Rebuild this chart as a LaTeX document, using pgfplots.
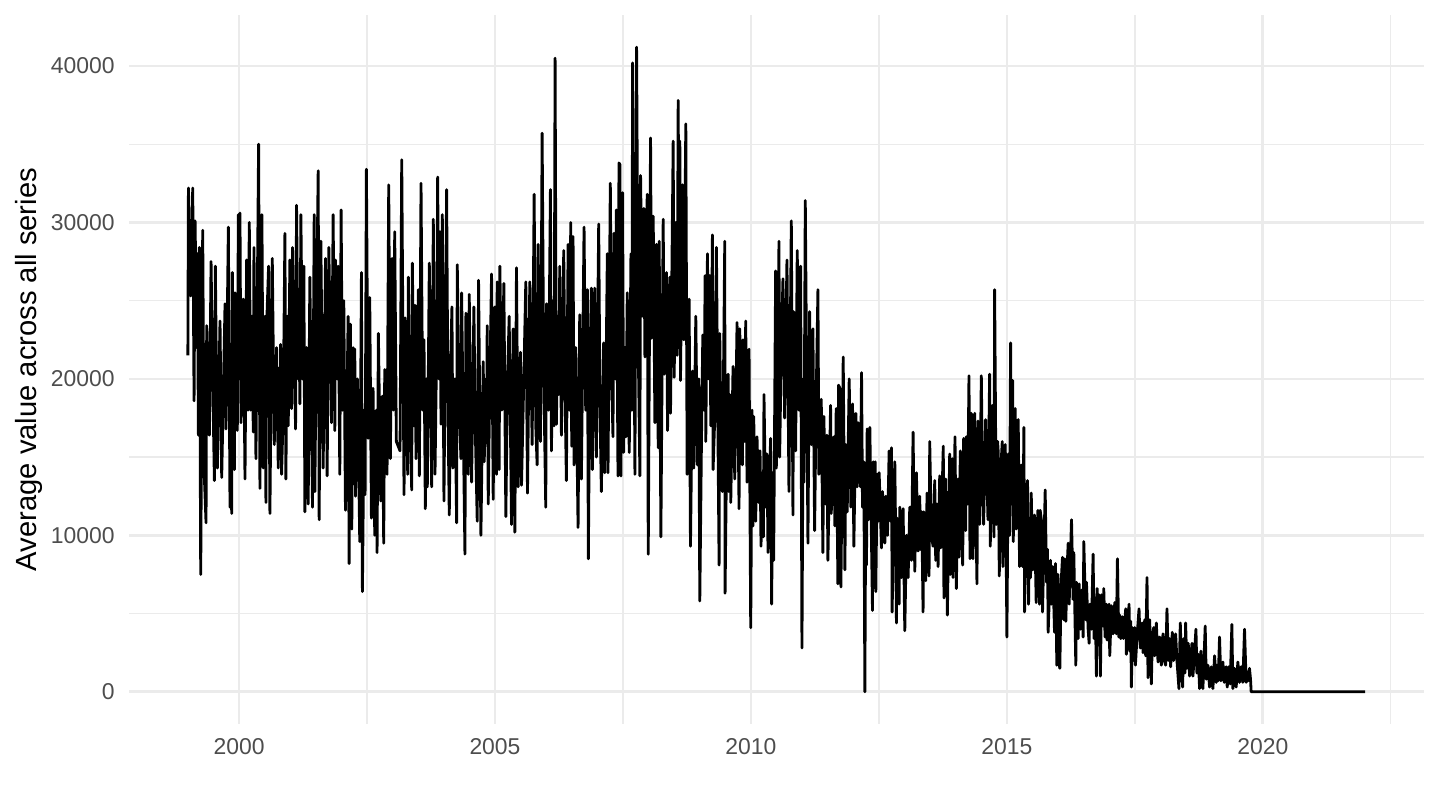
\documentclass[border=0pt]{standalone}
\usepackage{fontspec}
\setmainfont{Liberation Sans}
\usepackage{pgfplots}
\pgfplotsset{compat=1.18}
\definecolor{grid92}{HTML}{EBEBEB}
\definecolor{grey30}{HTML}{4D4D4D}
\begin{document}
\begin{tikzpicture}[x=1bp,y=1bp]
\path[use as bounding box] (0,0) rectangle (691.2,388.8);
\begin{axis}[
  at={(61.92bp,41.28bp)}, anchor=south west,
  scale only axis, width=621.6bp, height=340.32bp,
  xmin=1997.85, xmax=2023.15, ymin=-2060, ymax=43260,
  xtick={2000,2005,2010,2015,2020},
  minor xtick={2002.5,2007.5,2012.5,2017.5,2022.5},
  ytick={0,10000,20000,30000,40000},
  minor ytick={5000,15000,25000,35000},
  grid=both,
  major grid style={draw=grid92, line width=1.25bp},
  minor grid style={draw=grid92, line width=0.65bp},
  axis line style={draw=none},
  major tick length=0pt, minor tick length=0pt,
  tick style={draw=none},
  scaled ticks=false,
  /pgf/number format/1000 sep={},
  /pgf/number format/assume math mode=true,
  xticklabel style={font=\fontsize{11bp}{13bp}\selectfont, text=grey30, anchor=north, inner sep=0pt, yshift=-6.9bp},
  yticklabel style={font=\fontsize{11bp}{13bp}\selectfont, text=grey30, anchor=east, inner sep=0pt, xshift=-6.7bp},
  ylabel={Average value across all series},
  every axis y label/.style={at={(axis description cs:0,0.5)}, rotate=90, anchor=base, yshift=44.3bp},
  ylabel style={font=\fontsize{14bp}{16bp}\selectfont, text=black, inner sep=0pt},
]
\addplot[black, line width=1.35bp, line join=round] coordinates {
(1999.000,21500) (1999.011,32200) (1999.056,25300) (1999.095,32200) (1999.121,18600) (1999.141,30100) (1999.173,22000) (1999.186,28000) (1999.206,16400) (1999.225,28400) (1999.251,7500) (1999.290,29500) (1999.316,14300) (1999.355,10800) (1999.368,23400) (1999.420,16400) (1999.453,27500) (1999.485,20000) (1999.518,13500) (1999.537,27200) (1999.576,14300) (1999.628,23700) (1999.661,13700) (1999.726,24800) (1999.745,16800) (1999.791,29700) (1999.823,11800) (1999.836,19000) (1999.856,11400) (1999.869,26800) (1999.908,14200) (1999.921,25500) (1999.966,16700) (1999.986,30500)
(2000.005,20000) (2000.018,30600) (2000.038,17200) (2000.083,25100) (2000.116,13600) (2000.148,27600) (2000.174,18000) (2000.200,30000) (2000.226,18000) (2000.252,24000) (2000.278,16600) (2000.291,28400) (2000.330,14900) (2000.382,35000) (2000.408,13000) (2000.447,30500) (2000.473,14300) (2000.506,24000) (2000.525,12100) (2000.538,23300) (2000.577,27200) (2000.603,11400) (2000.649,27700) (2000.688,15800) (2000.733,22000) (2000.766,14300) (2000.785,20700) (2000.798,15500) (2000.811,22200) (2000.831,13900) (2000.863,18000) (2000.896,29300) (2000.915,13600) (2000.941,24000) (2000.961,17000) (2000.993,27600)
(2001.026,18100) (2001.045,28400) (2001.078,22000) (2001.104,16800) (2001.123,31100) (2001.156,20000) (2001.169,25000) (2001.188,18400) (2001.208,30500) (2001.240,20000) (2001.266,27200) (2001.286,11500) (2001.318,22000) (2001.351,12000) (2001.383,26500) (2001.435,11800) (2001.468,30500) (2001.481,12800) (2001.513,24000) (2001.546,33300) (2001.565,11000) (2001.598,28800) (2001.643,14300) (2001.689,27700) (2001.721,13800) (2001.754,28400) (2001.806,17200) (2001.838,30500) (2001.871,16700) (2001.884,27600) (2001.916,20000) (2001.936,27200) (2001.968,13900) (2001.994,30800)
(2002.020,18000) (2002.046,25000) (2002.079,11600) (2002.131,24000) (2002.150,8200) (2002.176,23500) (2002.202,10400) (2002.228,22000) (2002.241,14000) (2002.261,21900) (2002.274,12500) (2002.313,20000) (2002.358,9600) (2002.391,26800) (2002.410,6400) (2002.443,18000) (2002.462,12600) (2002.488,33400) (2002.521,16200) (2002.553,25200) (2002.586,11100) (2002.618,19400) (2002.651,10000) (2002.683,18000) (2002.696,8900) (2002.722,22900) (2002.768,12200) (2002.800,18900) (2002.826,9500) (2002.846,20600) (2002.891,13900) (2002.924,32400) (2002.956,14900) (2002.989,27700)
(2003.015,18000) (2003.041,29400) (2003.073,16000) (2003.145,15400) (2003.178,34000) (2003.223,12600) (2003.243,23900) (2003.295,13900) (2003.308,26500) (2003.340,18000) (2003.373,12900) (2003.386,27400) (2003.418,17000) (2003.438,24700) (2003.457,14900) (2003.503,25700) (2003.522,13800) (2003.555,32500) (2003.587,18000) (2003.613,22500) (2003.639,11700) (2003.659,20000) (2003.678,13100) (2003.717,27400) (2003.763,13100) (2003.795,30200) (2003.828,13900) (2003.860,22000) (2003.880,32900) (2003.906,20000) (2003.925,29400) (2003.945,17100) (2003.971,30500)
(2004.003,12200) (2004.029,22000) (2004.055,32100) (2004.081,18000) (2004.107,11300) (2004.140,22000) (2004.159,24600) (2004.178,14300) (2004.218,20000) (2004.250,10800) (2004.263,27300) (2004.302,18000) (2004.335,14900) (2004.348,25500) (2004.380,17000) (2004.413,8800) (2004.432,24200) (2004.478,13900) (2004.497,25400) (2004.543,13400) (2004.588,24600) (2004.614,17000) (2004.653,10900) (2004.679,26300) (2004.725,10000) (2004.770,21100) (2004.790,14700) (2004.822,20000) (2004.835,16000) (2004.848,23400) (2004.868,12000) (2004.900,20000) (2004.933,26700) (2004.965,12300) (2004.998,24600)
(2005.030,13900) (2005.043,26200) (2005.082,14200) (2005.095,27200) (2005.134,18000) (2005.173,26100) (2005.212,11200) (2005.245,20000) (2005.277,24000) (2005.323,10700) (2005.355,23200) (2005.388,10200) (2005.420,27100) (2005.453,13100) (2005.498,21700) (2005.518,13200) (2005.563,20000) (2005.602,26200) (2005.635,12700) (2005.680,26200) (2005.726,15800) (2005.765,31800) (2005.797,17000) (2005.823,14500) (2005.843,28600) (2005.875,18000) (2005.888,16000) (2005.921,35700) (2005.953,20000) (2005.992,11800)
(2006.005,24800) (2006.044,18000) (2006.083,32100) (2006.103,15400) (2006.135,25000) (2006.154,17000) (2006.174,40500) (2006.200,17100) (2006.226,24000) (2006.246,19000) (2006.265,27200) (2006.298,16400) (2006.343,28200) (2006.369,19000) (2006.395,13500) (2006.428,28600) (2006.454,18000) (2006.480,30000) (2006.499,15700) (2006.525,29100) (2006.545,14500) (2006.577,22000) (2006.623,10500) (2006.655,24100) (2006.688,13600) (2006.740,29700) (2006.772,18000) (2006.805,25700) (2006.824,8500) (2006.850,20000) (2006.883,25800) (2006.902,14200) (2006.948,25800) (2006.980,15000)
(2007.026,29900) (2007.052,18000) (2007.078,12800) (2007.123,22300) (2007.143,14000) (2007.175,22000) (2007.195,28000) (2007.208,14000) (2007.253,32500) (2007.279,20000) (2007.305,16300) (2007.325,29300) (2007.351,20000) (2007.370,30800) (2007.403,13800) (2007.422,33800)
(2007.441,33700) (2007.461,13800) (2007.493,31900) (2007.513,15300) (2007.539,22000) (2007.558,16300) (2007.584,25500) (2007.623,15300) (2007.656,28000) (2007.675,18000) (2007.688,40200) (2007.734,13900) (2007.766,41200) (2007.799,22000) (2007.831,13800) (2007.844,33000) (2007.877,24000) (2007.909,30900) (2007.929,21400) (2007.974,31800) (2007.994,8800)
(2008.039,35400) (2008.059,22600) (2008.091,30400) (2008.124,17200) (2008.156,28600) (2008.189,15600) (2008.208,28800) (2008.241,9900) (2008.286,30200) (2008.306,20300) (2008.351,26800) (2008.371,16700) (2008.416,26500) (2008.429,17800) (2008.481,35200) (2008.501,20100) (2008.533,30000) (2008.559,21500) (2008.579,37800) (2008.598,24000) (2008.611,35200) (2008.624,19900) (2008.663,32400) (2008.689,22500) (2008.728,36300) (2008.754,13900) (2008.793,25100) (2008.819,9300) (2008.858,20500) (2008.884,14300) (2008.923,24000) (2008.955,14500) (2008.982,20000)
(2009.001,5800) (2009.034,16100) (2009.060,22800) (2009.086,18000) (2009.105,26600) (2009.118,16000) (2009.151,28000) (2009.170,20000) (2009.196,26600) (2009.216,17000) (2009.248,29200) (2009.261,14200) (2009.294,17600) (2009.326,28400) (2009.352,18000) (2009.378,8100) (2009.391,22900) (2009.417,16000) (2009.443,12800) (2009.489,28800) (2009.495,6300) (2009.534,18000) (2009.554,20300) (2009.567,12800) (2009.586,19000) (2009.606,12100) (2009.651,20800) (2009.684,13600) (2009.729,23600) (2009.768,11700) (2009.781,23200) (2009.833,14500) (2009.846,22500) (2009.879,16000) (2009.898,23700) (2009.924,13400) (2009.963,21900) (2009.996,4100)
(2010.022,18000) (2010.041,10600) (2010.054,17600) (2010.093,10900) (2010.119,16300) (2010.152,12100) (2010.178,15400) (2010.197,9300) (2010.223,14000) (2010.243,9900) (2010.255,19000) (2010.288,11800) (2010.314,15200) (2010.334,8900) (2010.366,14000) (2010.385,16200) (2010.405,5600) (2010.424,14000) (2010.444,8400) (2010.483,26900) (2010.496,14300) (2010.529,22000) (2010.548,28800) (2010.561,15000) (2010.594,22000) (2010.626,26400) (2010.659,17500) (2010.704,27600) (2010.743,12800) (2010.789,30100) (2010.821,11300) (2010.834,24300) (2010.867,18000) (2010.873,15400) (2010.905,28200) (2010.938,18000) (2010.971,27200) (2010.997,2800)
(2011.023,20000) (2011.036,13400) (2011.062,31400) (2011.094,18000) (2011.114,9500) (2011.146,24300) (2011.179,15800) (2011.211,23200) (2011.244,10300) (2011.276,19000) (2011.309,25700) (2011.328,13900) (2011.374,18700) (2011.406,8900) (2011.425,17600) (2011.458,12000) (2011.484,16400) (2011.504,8400) (2011.556,18300) (2011.569,11400) (2011.621,16300) (2011.640,10600) (2011.666,18100) (2011.699,6900) (2011.712,19600)
(2011.738,19400) (2011.758,6700) (2011.803,21400) (2011.836,7800) (2011.855,15800) (2011.881,11500) (2011.920,20000) (2011.953,11800) (2011.985,18400) (2012.011,9300) (2012.050,17800) (2012.076,13100) (2012.096,17200) (2012.141,13100) (2012.161,20400) (2012.180,11800) (2012.206,14700) (2012.226,0) (2012.245,14000) (2012.258,8100) (2012.271,16800) (2012.297,11000) (2012.323,16900) (2012.349,11100) (2012.375,5200) (2012.388,14700) (2012.414,9000) (2012.427,14700) (2012.440,6400) (2012.466,13900) (2012.486,10900) (2012.505,14000) (2012.551,9200) (2012.570,12800) (2012.616,9500) (2012.635,12500) (2012.668,10000) (2012.700,15400) (2012.726,10900) (2012.746,15600) (2012.759,5100) (2012.791,12000) (2012.811,14700) (2012.824,11000) (2012.843,4400) (2012.856,11100) (2012.895,5600) (2012.908,11800) (2012.941,7300) (2012.973,11700)
(2013.006,3900) (2013.038,10000) (2013.071,7300) (2013.103,11800) (2013.136,8400) (2013.168,16600) (2013.201,7700) (2013.233,14000) (2013.266,9000) (2013.298,12500) (2013.311,9100) (2013.337,11500) (2013.363,5100) (2013.376,11500) (2013.415,7100) (2013.441,12700) (2013.480,7400) (2013.493,16000) (2013.526,10000) (2013.558,9300) (2013.591,13500) (2013.610,8400) (2013.636,12000) (2013.656,8000) (2013.688,13800) (2013.708,9200) (2013.758,15700) (2013.771,6000) (2013.805,13600) (2013.838,4900) (2013.883,15200) (2013.896,7500) (2013.935,14900) (2013.948,7300) (2013.987,16300)
(2014.013,6600) (2014.046,13600) (2014.065,8600) (2014.091,15400) (2014.117,10000) (2014.137,8100) (2014.156,16200) (2014.195,10300) (2014.208,16300) (2014.234,12000) (2014.260,20200) (2014.280,8500) (2014.306,17800) (2014.338,8500) (2014.371,17800) (2014.397,11000) (2014.416,6900) (2014.436,17300) (2014.468,10700) (2014.501,20200) (2014.527,13000) (2014.546,10700) (2014.585,17400) (2014.631,11000) (2014.663,20300) (2014.676,9300) (2014.715,18300) (2014.748,9900) (2014.761,25700) (2014.793,10700) (2014.819,16000) (2014.832,15300) (2014.852,7400) (2014.878,14000) (2014.910,16000) (2014.923,8000) (2014.969,15800)
(2015.001,3500) (2015.027,15200) (2015.053,10000) (2015.073,22300) (2015.092,12000) (2015.112,19900) (2015.125,9600) (2015.164,18100) (2015.183,10400) (2015.222,17400) (2015.248,8000) (2015.281,14500) (2015.307,8000) (2015.333,16900) (2015.346,5100) (2015.378,12000) (2015.404,13500) (2015.424,5600) (2015.443,11000) (2015.463,7300) (2015.476,12700) (2015.508,7800) (2015.541,11300) (2015.573,5700) (2015.606,11600) (2015.638,5600) (2015.651,11600) (2015.677,10900) (2015.697,5100) (2015.716,8000) (2015.749,12900) (2015.775,7000) (2015.794,9100) (2015.807,3800) (2015.853,8400) (2015.866,5600) (2015.898,8000) (2015.931,3800) (2015.950,8200) (2015.976,1700) (2015.996,7500) (2016.015,1900)
(2016.035,1500) (2016.061,7000) (2016.087,8600) (2016.113,4600) (2016.133,8500) (2016.152,4500) (2016.178,8000) (2016.198,9500) (2016.217,5600) (2016.263,11000) (2016.295,5900) (2016.308,8900) (2016.347,1700) (2016.360,7000) (2016.393,3400) (2016.412,6900) (2016.438,4000) (2016.464,6500) (2016.490,3500) (2016.503,9600) (2016.542,4600) (2016.555,7000) (2016.588,4000) (2016.607,3100) (2016.620,5600) (2016.653,4000) (2016.685,8800) (2016.705,3400) (2016.724,6000) (2016.750,1000) (2016.763,6600) (2016.789,3000) (2016.802,6200) (2016.828,1000) (2016.848,6200) (2016.880,4200) (2016.893,6600) (2016.919,3500) (2016.945,5600) (2016.958,3300) (2016.997,5600)
(2017.010,2300) (2017.043,5500) (2017.075,3700) (2017.108,5700) (2017.140,3700) (2017.160,8500) (2017.186,3500) (2017.205,4900) (2017.225,3400) (2017.257,4800) (2017.277,3400) (2017.322,5300) (2017.335,2400) (2017.387,5600) (2017.400,2600) (2017.420,4500) (2017.433,300) (2017.452,4100) (2017.478,2000) (2017.498,4100) (2017.511,1700) (2017.543,3500) (2017.582,5300) (2017.608,2800) (2017.641,4400) (2017.660,2500) (2017.693,4600) (2017.712,2300) (2017.738,7300) (2017.758,900) (2017.790,4600) (2017.823,500) (2017.842,3500) (2017.868,4100) (2017.888,2300) (2017.920,4400) (2017.953,1900) (2017.985,3500)
(2018.018,1700) (2018.050,3700) (2018.076,2000) (2018.102,1700) (2018.128,5300) (2018.154,2000) (2018.180,3400) (2018.200,1600) (2018.232,3800) (2018.258,2000) (2018.297,3700) (2018.323,2000) (2018.362,200) (2018.388,4400) (2018.414,1500) (2018.434,300) (2018.453,3400) (2018.479,1200) (2018.492,4400) (2018.518,1500) (2018.544,3100) (2018.570,1000) (2018.616,3100) (2018.635,1000) (2018.668,2600) (2018.694,4000) (2018.713,1200) (2018.739,2400) (2018.765,200) (2018.791,2600) (2018.830,200) (2018.850,2000) (2018.875,4200) (2018.895,800) (2018.928,1700) (2018.960,300) (2018.993,1600)
(2019.025,200) (2019.058,2300) (2019.090,600) (2019.103,1700) (2019.129,700) (2019.155,3500) (2019.181,700) (2019.220,1900) (2019.246,600) (2019.285,1600) (2019.305,300) (2019.337,1600) (2019.363,500) (2019.396,4300) (2019.415,200) (2019.448,1500) (2019.480,300) (2019.513,1900) (2019.545,600) (2019.578,1600) (2019.610,600) (2019.643,4000) (2019.675,600) (2019.688,1300) (2019.714,700) (2019.740,1500) (2019.760,800) (2019.773,0) (2022.000,0)
};
\end{axis}
\end{tikzpicture}
\end{document}
